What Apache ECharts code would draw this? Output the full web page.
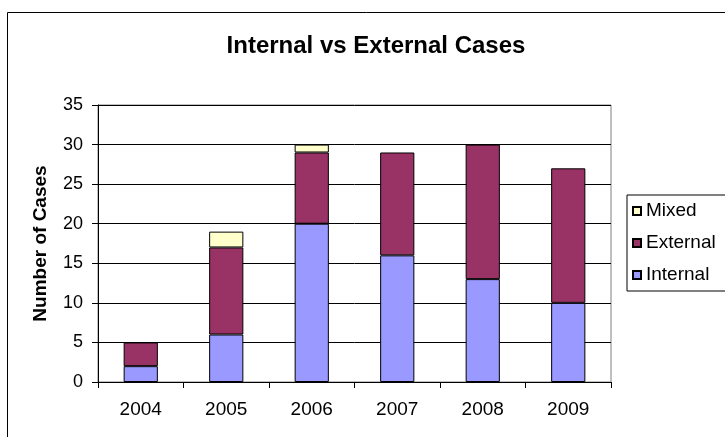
<!DOCTYPE html>
<html>
<head>
<meta charset="utf-8">
<script src="https://cdn.jsdelivr.net/npm/echarts@6/dist/echarts.min.js"></script>
<style>html,body{margin:0;padding:0;background:#fff}#c{width:725px;height:437px}</style>
</head>
<body>
<div id="c"></div>
<script>
const categories = ['2004','2005','2006','2007','2008','2009'];
const internalVals = [2, 6, 20, 16, 13, 10];
const externalVals = [3, 11, 9, 13, 17, 17];
const mixedVals = [null, 2, 1, null, null, null];
const yTicks = {min: 0, max: 35, interval: 5};

const chart = echarts.init(document.getElementById('c'), null, {renderer: 'canvas'});
const font = '"Liberation Sans", Arial, sans-serif';
const mk = (name, data, color) => ({
  name, type: 'bar', stack: 'all', data, barWidth: '40%',
  itemStyle: {color, borderColor: '#000', borderWidth: 1},
  emphasis: {disabled: true}
});
chart.setOption({
  animation: false,
  textStyle: {fontFamily: font},
  title: {
    text: 'Internal vs External Cases', left: 371, top: 29, textAlign: 'center',
    textStyle: {fontFamily: font, fontSize: 24, fontWeight: 'bold', color: '#000'}
  },
  graphic: [{
    type: 'rect', shape: {x: 7.5, y: 12.5, width: 900, height: 600},
    style: {fill: 'none', stroke: '#000', lineWidth: 1}, silent: true, z: -1
  }],
  legend: {
    orient: 'vertical', left: 627, top: 195,
    data: ['Mixed', 'External', 'Internal'],
    itemWidth: 8, itemHeight: 8, itemGap: 12,
    icon: 'rect',
    borderColor: '#000', borderWidth: 1, padding: [6, 20, 6, 5],
    backgroundColor: '#fff',
    textStyle: {fontFamily: font, fontSize: 19, lineHeight: 20, color: '#000'}
  },
  grid: {left: 98, right: 114, top: 105, bottom: 55, show: true, borderColor: '#808080', borderWidth: 1, backgroundColor: 'transparent'},
  xAxis: {
    type: 'category', data: categories,
    axisLine: {lineStyle: {color: '#000'}},
    axisTick: {show: true, alignWithLabel: false, length: 6, lineStyle: {color: '#000'}},
    axisLabel: {color: '#000', fontSize: 19, fontFamily: font, margin: 18}
  },
  yAxis: {
    type: 'value', min: yTicks.min, max: yTicks.max, interval: yTicks.interval,
    name: 'Number of Cases', nameLocation: 'middle', nameGap: 48, nameRotate: 90,
    nameTextStyle: {fontFamily: font, fontSize: 19, fontWeight: 'bold', color: '#000'},
    axisLine: {show: true, lineStyle: {color: '#000'}},
    axisTick: {show: true, length: 6, lineStyle: {color: '#000'}},
    axisLabel: {color: '#000', fontSize: 18, fontFamily: font, margin: 15},
    splitLine: {show: true, lineStyle: {color: '#000', width: 1}}
  },
  series: [
    mk('Internal', internalVals, '#9999FF'),
    mk('External', externalVals, '#993366'),
    mk('Mixed', mixedVals, '#FFFFCC')
  ]
});
</script>
</body>
</html>
